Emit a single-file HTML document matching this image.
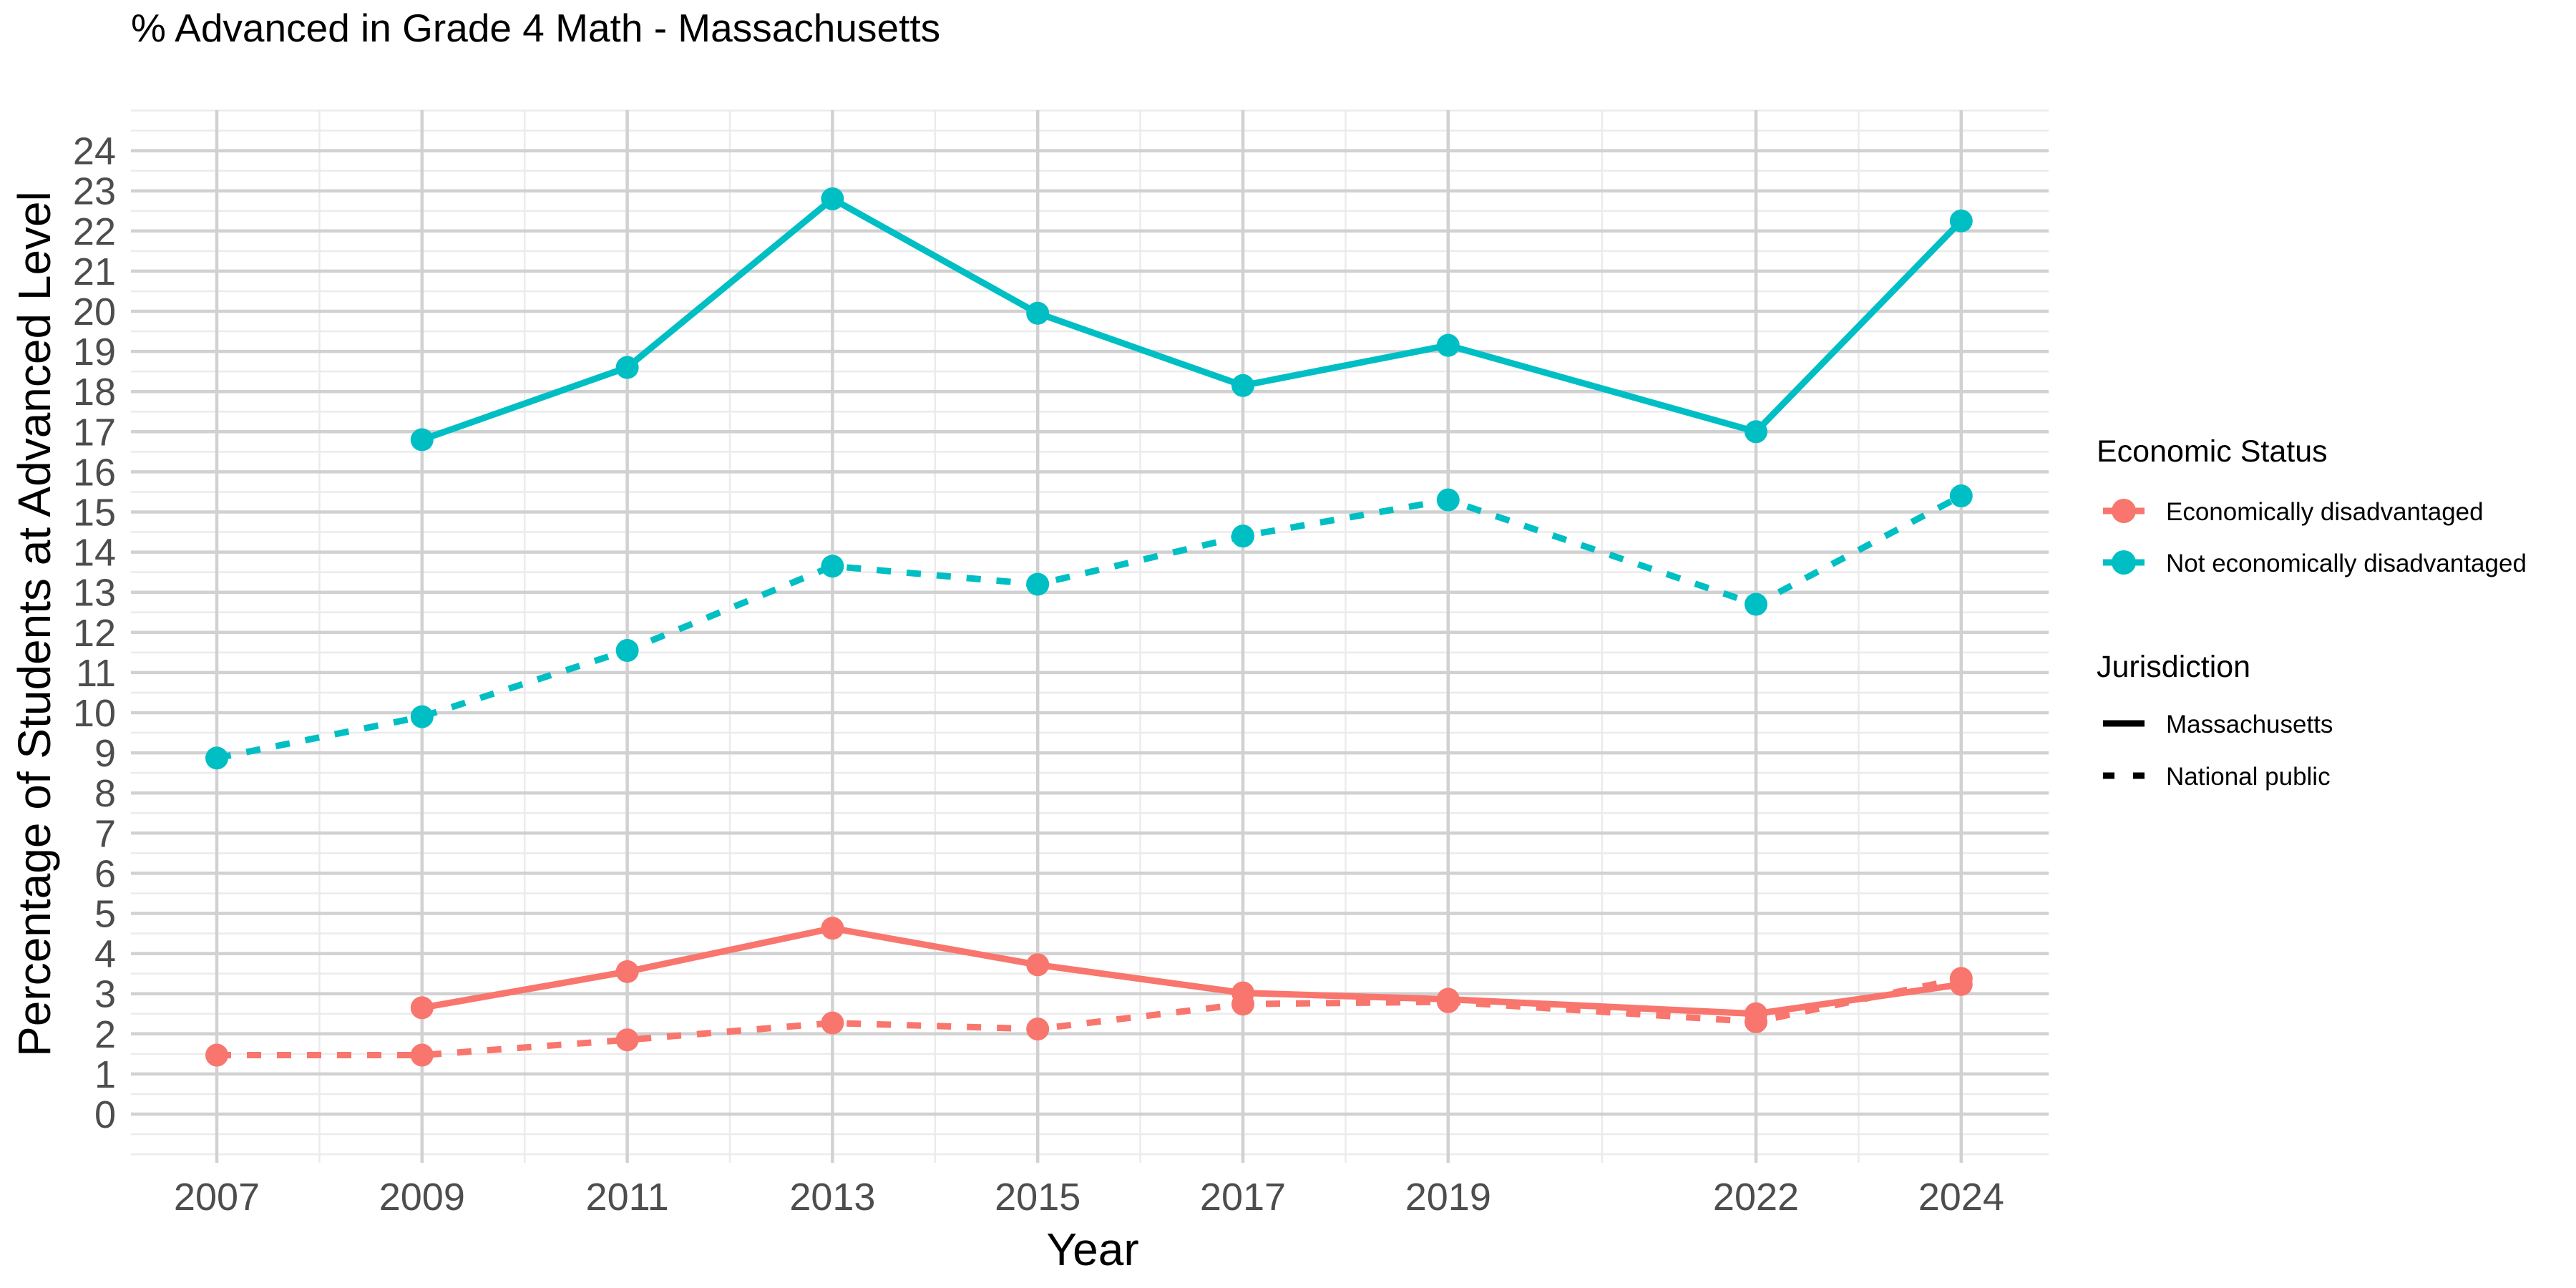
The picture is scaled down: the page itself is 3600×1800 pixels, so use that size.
<!DOCTYPE html>
<html><head><meta charset="utf-8"><style>
html,body{margin:0;padding:0;background:#fff;}
svg{display:block;font-family:"Liberation Sans",Arial,sans-serif;}
</style></head><body>
<svg id="chart" width="3600" height="1800" viewBox="0 0 3600 1800">
<text x="183" y="58" font-size="55" fill="#000">% Advanced in Grade 4 Math - Massachusetts</text>
<g id="grid"></g>
<g id="series"></g>
<g id="axes"></g>
<text x="1527" y="1768" font-size="64" text-anchor="middle" fill="#000">Year</text>
<text transform="translate(70,872) rotate(-90)" font-size="64" text-anchor="middle" fill="#000">Percentage of Students at Advanced Level</text>
<g>
<text x="2930" y="645" font-size="43" fill="#000">Economic Status</text>
<g>
<line x1="2939" y1="714" x2="2997" y2="714" stroke="#F8766D" stroke-width="9"/>
<circle cx="2968" cy="714" r="17" fill="#F8766D"/>
<text x="3027" y="727" font-size="35" fill="#000">Economically disadvantaged</text></g>
<g>
<line x1="2939" y1="786" x2="2997" y2="786" stroke="#00BFC4" stroke-width="9"/>
<circle cx="2968" cy="786" r="17" fill="#00BFC4"/>
<text x="3027" y="799" font-size="35" fill="#000">Not economically disadvantaged</text></g>
<text x="2930" y="946" font-size="43" fill="#000">Jurisdiction</text>
<g>
<line x1="2939" y1="1011" x2="2997" y2="1011" stroke="#000" stroke-width="9"/>
<text x="3027" y="1024" font-size="35" fill="#000">Massachusetts</text></g>
<g>
<line x1="2939" y1="1084" x2="2997" y2="1084" stroke="#000" stroke-width="9" stroke-dasharray="16 26"/>
<text x="3027" y="1097" font-size="35" fill="#000">National public</text></g>
</g>
</svg>
<script>
const years = [2007, 2009, 2011, 2013, 2015, 2017, 2019, 2022, 2024];
const yTicks = [0,1,2,3,4,5,6,7,8,9,10,11,12,13,14,15,16,17,18,19,20,21,22,23,24];
const notDisadvMA = [null, 16.8, 18.6, 22.8, 19.95, 18.15, 19.15, 17.0, 22.25];
const notDisadvNP = [8.87, 9.9, 11.55, 13.65, 13.2, 14.4, 15.3, 12.7, 15.4];
const disadvMA = [null, 2.65, 3.55, 4.63, 3.72, 3.02, 2.86, 2.5, 3.23];
const disadvNP = [1.47, 1.47, 1.85, 2.27, 2.12, 2.74, 2.8, 2.3, 3.38];

const NS = "http://www.w3.org/2000/svg";
const PL = 183, PR = 2863, PT = 154, PB = 1625;
function x(yr){ return 303 + (yr - 2007) * 143.4; }
function y(v){ return 1557 - 56.1 * v; }
function mk(tag, attrs, parent){
  const e = document.createElementNS(NS, tag);
  for (const k in attrs) e.setAttribute(k, attrs[k]);
  parent.appendChild(e); return e;
}
const grid = document.getElementById('grid');
const axes = document.getElementById('axes');
const series = document.getElementById('series');

for (let v = -1; v <= 25.01; v += 0.5) {
  if (Number.isInteger(v) && v >= 0 && v <= 24) continue;
  const l = mk('line', {x1: PL, x2: PR, y1: y(v), y2: y(v), stroke: '#ebebeb', 'stroke-width': 2.5}, grid);
  
  
}
const minorYears = [2008, 2010, 2012, 2014, 2016, 2018, 2020.5, 2023];
minorYears.forEach(m => {
  const l = mk('line', {x1: x(m), x2: x(m), y1: PT, y2: PB, stroke: '#ebebeb', 'stroke-width': 2.5}, grid);
  
  
});
yTicks.forEach(v => {
  const l = mk('line', {x1: PL, x2: PR, y1: y(v), y2: y(v), stroke: '#d1d1d1', 'stroke-width': 4.5}, grid);
  
  
  const t = mk('text', {x: 162, y: y(v) + 19, 'font-size': 54, 'text-anchor': 'end', fill: '#4d4d4d'}, axes);
  t.textContent = v;
  
  
});
years.forEach(yr => {
  const l = mk('line', {x1: x(yr), x2: x(yr), y1: PT, y2: PB, stroke: '#d1d1d1', 'stroke-width': 4.5}, grid);
  
  
  const t = mk('text', {x: x(yr), y: 1691, 'font-size': 54, 'text-anchor': 'middle', fill: '#4d4d4d'}, axes);
  t.textContent = yr;
  
  
});

function drawSeries(vals, color, dashed, name){
  const g = mk('g', {}, series);
  
  
  const pts = [];
  vals.forEach((v, i) => { if (v !== null) pts.push([x(years[i]), y(v)]); });
  const attrs = {points: pts.map(p => p.join(',')).join(' '), fill: 'none', stroke: color, 'stroke-width': 9, 'stroke-linejoin': 'round'};
  if (dashed) attrs['stroke-dasharray'] = '20 22';
  const pl = mk('polyline', attrs, g);
  
  
  pts.forEach(p => {
    const c = mk('circle', {cx: p[0], cy: p[1], r: 16, fill: color}, g);
    
    
  });
}
drawSeries(disadvNP, '#F8766D', true, 'econ-disadv-national');
drawSeries(disadvMA, '#F8766D', false, 'econ-disadv-massachusetts');
drawSeries(notDisadvNP, '#00BFC4', true, 'not-disadv-national');
drawSeries(notDisadvMA, '#00BFC4', false, 'not-disadv-massachusetts');
</script>
</body></html>
